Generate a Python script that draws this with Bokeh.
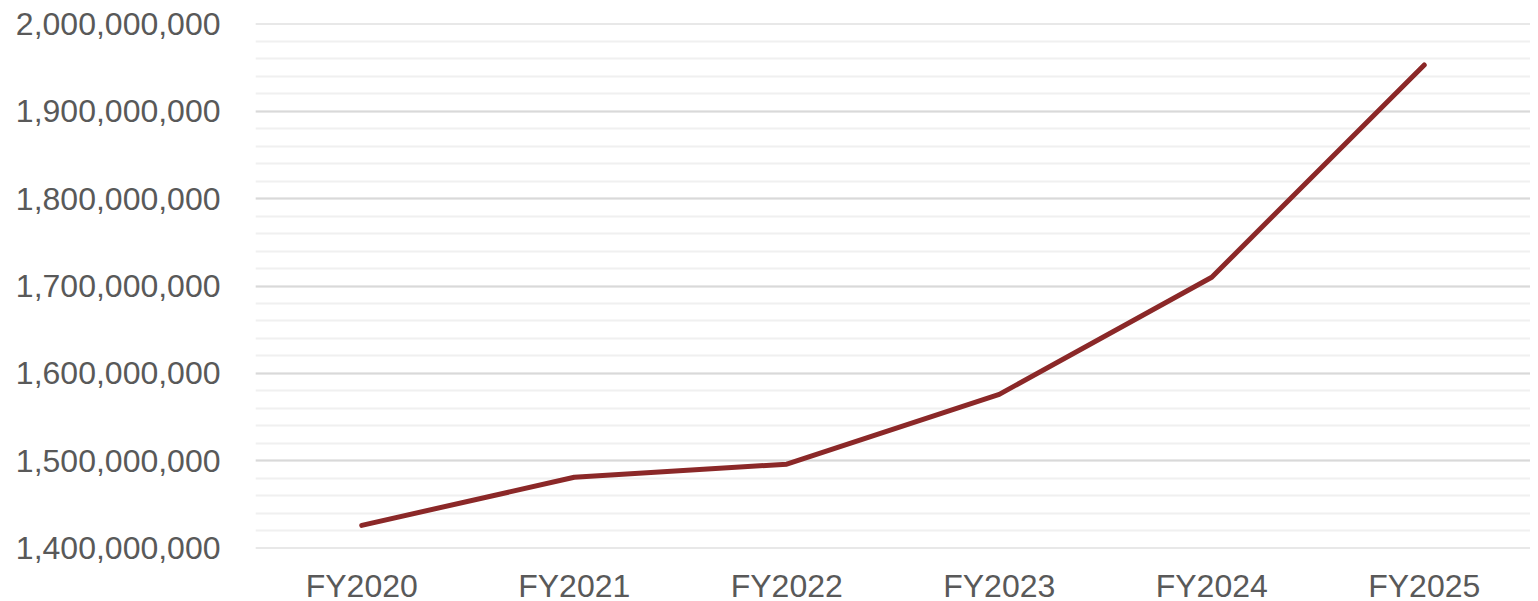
from bokeh.plotting import figure
from bokeh.models import SingleIntervalTicker, NumeralTickFormatter, Range1d, FactorRange
from bokeh.embed import file_html
from bokeh.resources import INLINE

categories = ["FY2020", "FY2021", "FY2022", "FY2023", "FY2024", "FY2025"]
values = [1426000000, 1481000000, 1496000000, 1576000000, 1710000000, 1953000000]

p = figure(x_range=FactorRange(*categories, range_padding=0), y_range=Range1d(1399500000, 2000500000),
           frame_width=1275, frame_height=525, output_backend="svg", toolbar_location=None,
           min_border_left=255, min_border_top=23, min_border_bottom=6, min_border_right=0)
p.outline_line_color = None
p.background_fill_color = "white"

p.line(categories, values, line_color="#8B2828", line_width=5, line_cap="round", line_join="round")

p.yaxis.ticker = SingleIntervalTicker(interval=100000000, num_minor_ticks=5)
p.yaxis.formatter = NumeralTickFormatter(format="0,0")
for ax in (p.xaxis, p.yaxis):
    ax.axis_line_color = None
    ax.major_tick_line_color = None
    ax.minor_tick_line_color = None
    ax.major_tick_out = 0
    ax.major_label_text_font = "Liberation Sans"
    ax.major_label_text_font_size = "32px"
    ax.major_label_text_color = "#595959"
p.yaxis.major_label_standoff = 31
p.xaxis.major_label_standoff = 19

p.xgrid.grid_line_color = None
p.ygrid.grid_line_color = "#d9d9d9"
p.ygrid.grid_line_width = 2
p.ygrid.minor_grid_line_color = "#f0f0f0"
p.ygrid.minor_grid_line_width = 2

open("out.html", "w").write(file_html(p, INLINE))
